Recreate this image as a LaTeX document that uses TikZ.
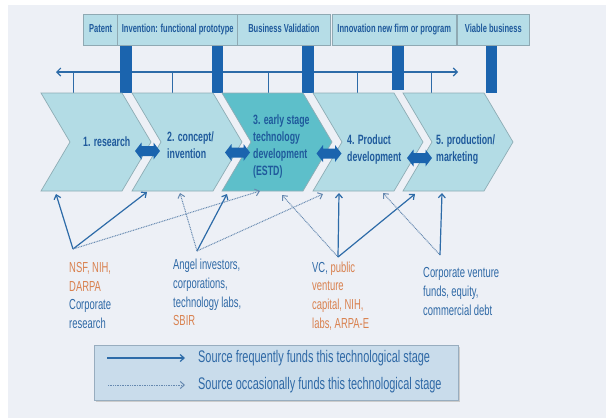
\documentclass[tikz,border=0pt]{standalone}
\usepackage{fontspec}
\setmainfont{Liberation Sans}[FakeStretch=0.65]
\usetikzlibrary{arrows.meta}

\definecolor{panelbg}{HTML}{EDF0F6}
\definecolor{chevfill}{HTML}{B3DCE5}
\definecolor{chevdark}{HTML}{5DBFCA}
\definecolor{chevedge}{HTML}{8EADB5}
\definecolor{boxfill}{HTML}{B6DDE7}
\definecolor{boxedge}{HTML}{8FA9B3}
\definecolor{barblue}{HTML}{1B64AE}
\definecolor{lineblue}{HTML}{2D6BA8}
\definecolor{labelblue}{HTML}{1F5A9C}
\definecolor{textblue}{HTML}{2F69A6}
\definecolor{srcorange}{HTML}{D9814F}
\definecolor{legfill}{HTML}{C9DCEB}
\definecolor{legedge}{HTML}{98ADBF}
\definecolor{dotcol}{HTML}{6689B0}

\begin{document}
\begin{tikzpicture}[x=1pt,y=-1pt,
  topbox/.style={draw=boxedge,line width=0.8pt,fill=boxfill,minimum height=31,inner sep=0,
    text=labelblue,font=\fontsize{11.6}{12}\selectfont\bfseries,text height=8.2,text depth=2.2},
  bar/.style={fill=barblue},
  timeline/.style={draw=lineblue,line width=1.1pt},
  tick/.style={draw=lineblue,line width=0.9pt},
  chev/.style={draw=chevedge,line width=0.7pt,fill=chevfill},
  chevlabel/.style={inner sep=0,align=left,text=labelblue,font=\fontsize{13.5}{17}\selectfont\bfseries},
  link/.style={fill=barblue},
  srctext/.style={inner sep=0,align=left,text=textblue,font=\fontsize{14.5}{18.7}\selectfont},
  freq/.style={draw=lineblue,line width=1.2pt,-{Straight Barb[length=4pt,width=7pt]}},
  occas/.style={draw=dotcol,line width=1pt,dash pattern=on 0.9pt off 0.8pt,-{Straight Barb[length=4pt,width=7pt]}},
  legtext/.style={inner sep=0,text=textblue,font=\fontsize{16.8}{18}\selectfont,text height=11.8,text depth=3.6}
]
\useasboundingbox (0,0) rectangle (606,418);
\fill[panelbg] (8,5) rectangle (606,418);

% time line with its ticks
\coordinate (tlL) at (56,72);
\coordinate (tlR) at (458,72);
\draw[timeline,{Straight Barb[length=4pt,width=8pt]}-{Straight Barb[length=4pt,width=8pt]}] (tlL) -- (tlR);
\foreach \tx in {73,172,268,357,431} \draw[tick] (\tx,72) -- (\tx,93);

% milestone bars
\fill[bar] (119.7,45) rectangle (132,93);
\fill[bar] (211.7,45) rectangle (223.4,93);
\fill[bar] (302,45) rectangle (314,93);
\fill[bar] (392,45) rectangle (404,90);
\fill[bar] (485.6,45) rectangle (497,93);

% milestone labels
\node[topbox,minimum width=34.2]  (patent)  at (100.6,29.5) {Patent};
\node[topbox,minimum width=120.1] (invent)  at (177.75,29.5) {Invention: functional prototype};
\node[topbox,minimum width=92.2]  (bizval)  at (283.9,29.5) {Business Validation};
\node[topbox,minimum width=124.5] (innov)   at (394.25,29.5) {Innovation new firm or program};
\node[topbox,minimum width=71.4]  (viable)  at (493.3,29.5) {Viable business};

% stage chevrons
\newcommand{\stagechevron}[2]{%
  \path[chev,#2] (#1,93) -- ++(81,0) -- ++(29,49) -- ++(-29,49) -- ++(-81,0) -- ++(29,-49) -- cycle;}
\stagechevron{41}{}
\stagechevron{132}{}
\stagechevron{222}{fill=chevdark}
\stagechevron{313}{}
\stagechevron{403}{}

\node[chevlabel,anchor=west] (s1) at (83,142) {1. research};
\node[chevlabel,anchor=north west] (s2) at (167,132) {2. concept/\\invention};
\node[chevlabel,anchor=north west] (s3) at (253,114.5) {3. early stage\\technology\\development\\(ESTD)};
\node[chevlabel,anchor=north west] (s4) at (347,134.5) {4. Product\\development};
\node[chevlabel,anchor=north west] (s5) at (436,134.5) {5. production/\\marketing};

% two-headed links between stages
\newcommand{\stagelink}[2]{%
  \fill[link] (#1-12.5,#2) -- (#1-6,#2-8.5) -- (#1-6,#2-5) -- (#1+6,#2-5) -- (#1+6,#2-8.5)
    -- (#1+12.5,#2) -- (#1+6,#2+8.5) -- (#1+6,#2+5) -- (#1-6,#2+5) -- (#1-6,#2+8.5) -- cycle;}
\stagelink{147.5}{151}
\stagelink{237.5}{152.5}
\stagelink{329}{153.5}
\stagelink{419.5}{158}

% funding sources
\node[srctext,anchor=north west] (srcA) at (69,262)
  {\textcolor{srcorange}{NSF, NIH,}\\\textcolor{srcorange}{DARPA}\\Corporate\\research};
\node[srctext,anchor=north west] (srcB) at (173,259)
  {Angel investors,\\corporations,\\technology labs,\\\textcolor{srcorange}{SBIR}};
\node[srctext,anchor=north west] (srcC) at (312,261.5)
  {VC, \textcolor{srcorange}{public}\\\textcolor{srcorange}{venture}\\\textcolor{srcorange}{capital, NIH,}\\\textcolor{srcorange}{labs, ARPA-E}};
\node[srctext,anchor=north west] (srcD) at (423,267.5)
  {Corporate venture\\funds, equity,\\commercial debt};

\coordinate (aA) at (73,249);
\coordinate (aB) at (197,251);
\coordinate (aC) at (338,257);
\coordinate (aD) at (440,255);

\coordinate (tA1) at (56,194);
\coordinate (tA2) at (147,192);
\coordinate (tA3) at (260,191);
\coordinate (tB2) at (180,193);
\coordinate (tB3) at (227,194);
\coordinate (tB4) at (323,194);
\coordinate (tC3) at (282,195);
\coordinate (tC4) at (339,193);
\coordinate (tC5) at (415,194);
\coordinate (tD4) at (383,193);
\coordinate (tD5) at (442,193);

\draw[freq]  (aA) -- (tA1);
\draw[freq]  (aA) -- (tA2);
\draw[occas] (aA) -- (tA3);
\draw[occas] (aB) -- (tB2);
\draw[freq]  (aB) -- (tB3);
\draw[occas] (aB) -- (tB4);
\draw[occas] (aC) -- (tC3);
\draw[freq]  (aC) -- (tC4);
\draw[freq]  (aC) -- (tC5);
\draw[occas] (aD) -- (tD4);
\draw[freq]  (aD) -- (tD5);

% legend
\fill[gray!40] (95.5,346.5) rectangle (459.5,401.5);
\node[draw=legedge,line width=0.8pt,fill=legfill,minimum width=364,minimum height=55,inner sep=0]
  (legend) at (276,372.5) {};
\coordinate (lf1) at (107,358);
\coordinate (lf2) at (185,358);
\coordinate (lo1) at (108,385);
\coordinate (lo2) at (185,385);
\draw[freq]  (lf1) -- (lf2);
\draw[occas] (lo1) -- (lo2);
\node[legtext,anchor=west] (legf) at (198,358) {Source frequently funds this technological stage};
\node[legtext,anchor=west] (lego) at (198,385) {Source occasionally funds this technological stage};
\end{tikzpicture}
\end{document}
